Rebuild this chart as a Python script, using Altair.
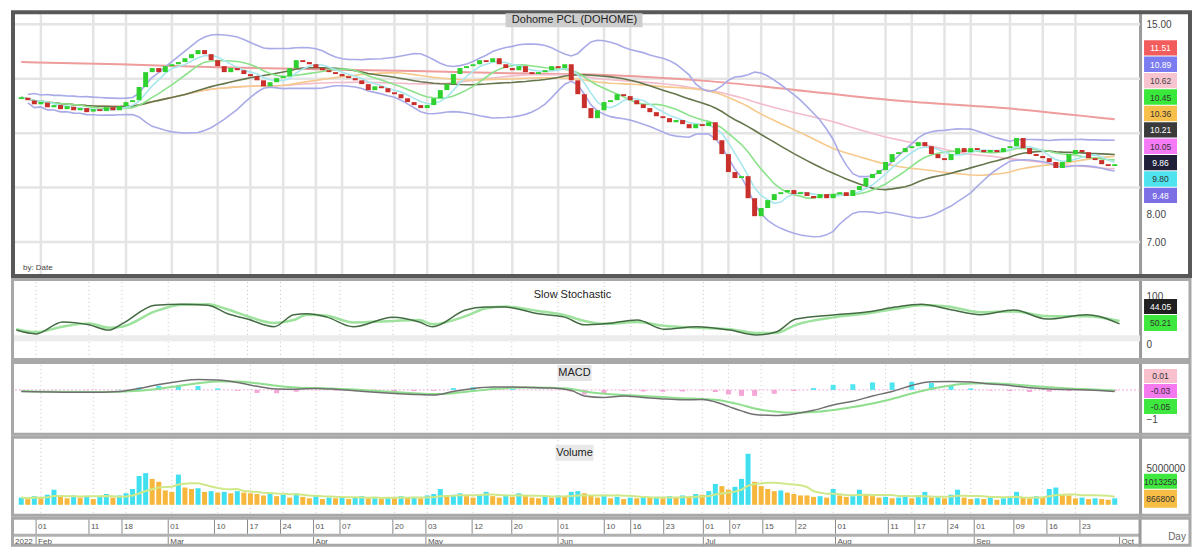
import altair as alt
import pandas as pd

FONT = "Liberation Sans"

# ---------------- data ----------------
close = [12.32, 12.21, 12.06, 12.14, 11.95, 12.03, 11.88, 11.99, 11.84, 11.92,
         11.77, 11.88, 11.81, 11.95, 11.84, 11.99, 12.14, 12.21, 12.69, 13.24,
         13.39, 13.24, 13.46, 13.53, 13.61, 13.75, 13.90, 14.05, 13.90, 13.68,
         13.46, 13.24, 13.39, 13.31, 13.17, 13.09, 12.94, 12.72, 12.87, 13.02,
         13.09, 13.39, 13.68, 13.61, 13.53, 13.39, 13.31, 13.24, 13.17, 13.09,
         13.02, 12.94, 12.80, 12.58, 12.72, 12.65, 12.50, 12.43, 12.28, 12.14,
         12.03, 11.92, 12.03, 12.28, 12.58, 12.80, 13.17, 13.39, 13.46, 13.53,
         13.68, 13.61, 13.75, 13.53, 13.39, 13.31, 13.46, 13.24, 13.17, 13.24,
         13.31, 13.46, 13.39, 13.53, 12.94, 12.43, 11.92, 11.55, 11.84, 12.14,
         12.21, 12.43, 12.36, 12.21, 12.06, 11.92, 11.77, 11.62, 11.55, 11.40,
         11.48, 11.33, 11.18, 11.33, 11.26, 11.40, 10.74, 10.23, 9.57, 9.35,
         9.42, 8.61, 7.95, 8.25, 8.54, 8.76, 8.83, 8.91, 8.76, 8.83,
         8.69, 8.61, 8.76, 8.61, 8.76, 8.83, 8.69, 8.91, 9.06, 9.35,
         9.50, 9.64, 9.94, 10.23, 10.30, 10.45, 10.52, 10.67, 10.52, 10.23,
         10.08, 10.01, 10.23, 10.45, 10.30, 10.45, 10.38, 10.30, 10.38, 10.30,
         10.45, 10.52, 10.82, 10.45, 10.23, 10.16, 10.08, 9.94, 9.72, 9.94,
         10.23, 10.38, 10.30, 10.08, 10.01, 9.86, 9.79, 9.86]

open_ = [12.25, 12.30, 12.20, 12.06, 12.12, 11.95, 12.03, 11.88, 11.97, 11.84,
         11.92, 11.79, 11.88, 11.81, 11.95, 11.84, 11.99, 12.14, 12.21, 12.69,
         13.24, 13.39, 13.24, 13.46, 13.53, 13.61, 13.75, 13.90, 14.05, 13.90,
         13.68, 13.46, 13.24, 13.39, 13.31, 13.17, 13.09, 12.94, 12.72, 12.87,
         13.02, 13.09, 13.39, 13.68, 13.61, 13.53, 13.39, 13.31, 13.24, 13.17,
         13.09, 13.02, 12.94, 12.80, 12.58, 12.72, 12.65, 12.50, 12.43, 12.28,
         12.14, 12.03, 11.92, 12.03, 12.28, 12.58, 12.80, 13.17, 13.39, 13.46,
         13.53, 13.68, 13.61, 13.75, 13.53, 13.39, 13.31, 13.46, 13.24, 13.17,
         13.24, 13.31, 13.46, 13.39, 13.53, 12.94, 12.43, 11.92, 11.55, 11.84,
         12.14, 12.21, 12.43, 12.36, 12.21, 12.06, 11.92, 11.77, 11.62, 11.55,
         11.40, 11.48, 11.33, 11.18, 11.33, 11.26, 11.40, 10.74, 10.23, 9.57,
         9.35, 9.42, 8.61, 7.95, 8.25, 8.54, 8.76, 8.83, 8.91, 8.76,
         8.83, 8.69, 8.61, 8.76, 8.61, 8.76, 8.83, 8.69, 8.91, 9.06,
         9.35, 9.50, 9.64, 9.94, 10.23, 10.30, 10.45, 10.52, 10.67, 10.52,
         10.23, 10.08, 10.01, 10.23, 10.45, 10.30, 10.45, 10.38, 10.30, 10.38,
         10.30, 10.45, 10.52, 10.82, 10.45, 10.23, 10.16, 10.08, 9.94, 9.72,
         9.94, 10.23, 10.38, 10.30, 10.08, 10.01, 9.86, 9.79]

volume_m = [1.0, 0.8, 1.2, 0.9, 1.4, 2.1, 1.1, 0.9, 1.3, 1.0,
            1.2, 0.8, 1.1, 1.5, 1.0, 1.3, 1.6, 2.2, 4.0, 4.4,
            3.6, 3.2, 2.0, 1.8, 4.2, 2.4, 2.2, 2.3, 1.8, 1.9,
            1.7, 1.8, 1.6, 1.9, 1.7, 1.6, 1.5, 1.3, 1.5, 1.2,
            1.4, 1.0, 1.6, 1.1, 0.9, 1.2, 0.8, 1.0, 0.9, 1.1,
            0.8, 1.0, 1.2, 0.9, 1.1, 0.8, 1.0, 0.9, 1.2, 1.0,
            1.1, 0.9, 1.3, 1.5, 2.2, 1.1, 1.4, 1.6, 1.2, 1.0,
            1.3, 1.8, 1.2, 1.0, 1.4, 1.1, 1.6, 1.2, 1.0, 0.9,
            1.2, 1.0, 1.3, 1.1, 1.8, 1.9, 1.6, 1.3, 1.0, 1.2,
            0.9, 1.1, 0.8, 1.0, 0.9, 1.2, 1.0, 1.1, 0.9, 1.2,
            1.0, 1.3, 1.1, 1.5, 1.4, 1.9, 2.9, 2.6, 2.1, 2.5,
            3.6, 7.1, 3.2, 2.6, 2.2, 1.9, 2.0, 1.7, 1.5, 1.3,
            1.3, 1.1, 1.2, 1.0, 2.2, 1.3, 1.1, 1.2, 2.1, 1.4,
            1.2, 1.0, 1.1, 0.9, 1.0, 1.2, 0.9, 1.3, 1.8, 1.0,
            1.1, 0.9, 1.4, 2.1, 1.0, 0.8, 0.9, 0.8, 1.0, 0.7,
            0.9, 1.1, 1.8, 1.0, 0.9, 1.2, 1.0, 2.2, 2.4, 1.5,
            1.3, 0.9, 1.0, 0.8, 0.9, 0.8, 0.7, 0.9]

sma200_idx = [0, 15, 30, 45, 60, 75, 90, 105, 120, 135, 150, 167]
sma200_val = [13.61, 13.53, 13.42, 13.35, 13.28, 13.20, 13.13, 12.91, 12.54, 12.17, 11.92, 11.51]

stoch_idx = [0, 3, 7, 11, 14, 16, 21, 25, 29, 32, 35, 39, 42, 44, 47, 51, 57, 61, 63, 68, 71, 74,
             79, 83, 86, 89, 94, 98, 103, 108, 112, 115, 118, 124, 129, 133, 137, 141, 146, 151,
             156, 162, 167]
stoch_k = [31, 23, 48, 42, 31, 44, 83, 85, 83, 65, 54, 38, 63, 65, 58, 38, 58, 48, 38, 73, 79, 79,
           65, 58, 42, 44, 52, 33, 38, 31, 21, 27, 54, 63, 69, 79, 85, 75, 63, 73, 54, 63, 44]
stoch_d = [33, 27, 38, 45, 36, 38, 70, 84, 85, 74, 60, 46, 52, 63, 61, 47, 50, 52, 43, 60, 76, 80,
           71, 62, 50, 44, 48, 40, 36, 33, 25, 25, 42, 58, 66, 75, 83, 80, 68, 70, 60, 60, 50]

macd_idx = [0, 5, 10, 15, 18, 21, 24, 27, 30, 33, 36, 39, 42, 45, 48, 51, 54, 57, 60, 63, 66, 69,
            72, 75, 78, 81, 84, 86, 89, 92, 95, 98, 101, 104, 106, 108, 110, 112, 115, 118, 121,
            124, 127, 130, 133, 136, 139, 142, 145, 148, 151, 154, 157, 160, 163, 167]
macd_line = [-0.05, -0.07, -0.08, -0.05, 0.05, 0.18, 0.28, 0.35, 0.33, 0.25, 0.12, 0.03, 0.02,
             0.05, 0.02, -0.03, -0.08, -0.12, -0.15, -0.17, -0.05, 0.05, 0.10, 0.10, 0.08, 0.06,
             -0.02, -0.20, -0.25, -0.20, -0.25, -0.30, -0.33, -0.32, -0.40, -0.55, -0.70, -0.82,
             -0.85, -0.80, -0.68, -0.50, -0.38, -0.20, -0.05, 0.15, 0.27, 0.28, 0.26, 0.20, 0.15,
             0.07, 0.03, 0.01, 0.00, -0.05]
macd_signal = [-0.04, -0.06, -0.07, -0.06, -0.03, 0.04, 0.13, 0.22, 0.28, 0.28, 0.22, 0.14, 0.08,
               0.06, 0.04, 0.01, -0.03, -0.07, -0.11, -0.14, -0.11, -0.04, 0.03, 0.07, 0.08, 0.07,
               0.03, -0.05, -0.13, -0.17, -0.20, -0.24, -0.28, -0.30, -0.33, -0.40, -0.50, -0.62,
               -0.72, -0.76, -0.74, -0.67, -0.57, -0.45, -0.30, -0.12, 0.04, 0.15, 0.21, 0.22, 0.19,
               0.14, 0.09, 0.05, 0.02, -0.02]

tick_idx = [3, 11, 16, 23, 30, 35, 40, 45, 49, 57, 62, 69, 75, 82, 89, 93, 98, 104, 108, 113,
            118, 124, 132, 136, 141, 145, 151, 156, 161]
tick_day = ["01", "11", "18", "01", "10", "17", "24", "01", "07", "20", "03", "12", "20", "01",
            "10", "16", "23", "01", "07", "15", "22", "01", "11", "17", "24", "01", "09", "16", "23"]
month_idx = [3, 23, 45, 62, 82, 104, 124, 145, 167]
month_lbl = ["Feb", "Mar", "Apr", "May", "Jun", "Jul", "Aug", "Sep", "Oct"]

price_grid = [15, 13, 11, 9, 7]
price_ticks = [15, 8, 7]

price_box_text = ["11.51", "10.89", "10.62", "10.45", "10.36", "10.21", "10.05", "9.86", "9.80", "9.48"]
stoch_box_text = ["44.05", "50.21"]
macd_box_text = ["0.01", "-0.03", "-0.05"]
vol_box_text = ["1013250", "866800"]

# ---------------- layout helpers ----------------
N = len(close)
W = 1130
XS = alt.Scale(domain=[-0.8, 170.1], nice=False, zero=False)
X = alt.X("i:Q", scale=XS, axis=None)
one = pd.DataFrame({"k": [0]})


def const_rect(x1, x2, y1, y2, color):
    return alt.Chart(one).mark_rect(color=color).encode(
        x=alt.value(x1), x2=alt.value(x2), y=alt.value(y1), y2=alt.value(y2))


def const_text(x, y, text, size=9, color="#333", align="center"):
    return alt.Chart(one).mark_text(text=text, fontSize=size, color=color, align=align,
                                    baseline="middle", font=FONT).encode(
        x=alt.value(x), y=alt.value(y))


def frame(H, color, sw):
    return alt.Chart(one).mark_rect(filled=False, color=color, strokeWidth=sw).encode(
        x=alt.value(sw / 2), x2=alt.value(W + 50), y=alt.value(sw / 2), y2=alt.value(H - sw / 2))


def value_boxes(top, heights, colors, texts, tcolors):
    layers = []
    y = top
    for h, c, t, tc in zip(heights, colors, texts, tcolors):
        layers.append(const_rect(W + 4, W + 37, y, y + h - 1, c))
        layers.append(const_text(W + 20.5, y + h / 2, t, 8.5, tc))
        y += h
    return layers


def right_axis(values, fmt):
    return alt.Axis(orient="right", values=values, format=fmt, grid=False, ticks=False, title=None,
                    labelFontSize=10, labelColor="#444", labelFont=FONT, domainColor="#9a9a9a",
                    domainWidth=3, labelPadding=6)


tdf = pd.DataFrame({"i": tick_idx, "t": tick_day})
mdf_lbl = pd.DataFrame({"i": month_idx, "t": month_lbl})
srt = [alt.SortField("i")]

# ---------------- price panel ----------------
H1 = 268
YP = alt.Scale(domain=[5.679, 15.514], nice=False, zero=False)
YPA = right_axis(price_ticks, ".2f")
pdf = pd.DataFrame({"i": list(range(N)), "open": open_, "close": close})

vgrid = alt.Chart(tdf).mark_rule(color="#e4e4e4", strokeWidth=2.5).encode(x=X)
hgrid = alt.Chart(pd.DataFrame({"v": price_grid})).mark_rule(color="#e4e4e4", strokeWidth=2.5).encode(
    y=alt.Y("v:Q", scale=YP, axis=YPA))
sma200 = alt.Chart(pd.DataFrame({"i": sma200_idx, "v": sma200_val})).mark_line(
    color="#ee9c9c", strokeWidth=2, interpolate="monotone").encode(x=X, y=alt.Y("v:Q", scale=YP, axis=YPA))

series = ["sma60", "sma40", "bbu", "bbl", "sma25", "sma10", "sma5"]
series_col = ["#f3bccb", "#f6c98c", "#a9abe8", "#a9abe8", "#66764c", "#8be28b", "#a9e7ee"]
ind = (alt.Chart(pdf)
       .transform_window(sma5="mean(close)", frame=[-4, 0], sort=srt)
       .transform_window(sma10="mean(close)", frame=[-9, 0], sort=srt)
       .transform_window(bbm="mean(close)", bbs="stdev(close)", frame=[-19, 0], sort=srt)
       .transform_window(sma25="mean(close)", frame=[-24, 0], sort=srt)
       .transform_window(sma40="mean(close)", frame=[-39, 0], sort=srt)
       .transform_window(sma60="mean(close)", frame=[-59, 0], sort=srt)
       .transform_calculate(bbu="datum.bbm + 2*datum.bbs", bbl="datum.bbm - 2*datum.bbs")
       .transform_fold(series, as_=["s", "v"])
       .mark_line(strokeWidth=1.6)
       .encode(x=X, y=alt.Y("v:Q", scale=YP, axis=YPA),
               color=alt.Color("s:N", scale=alt.Scale(domain=series, range=series_col), legend=None)))

candles = alt.Chart(pdf).mark_bar(size=5).encode(
    x=X, y=alt.Y("open:Q", scale=YP, axis=YPA), y2="close:Q",
    color=alt.condition("datum.close >= datum.open", alt.value("#2fd12f"), alt.value("#c9302c")))

price_layers = [vgrid, hgrid, sma200, ind, candles, frame(H1, "#585858", 4),
                const_rect(495, 632, 3, 17, "#cdcdcd"),
                const_text(564, 10, "Dohome PCL (DOHOME)", 11, "#222"),
                const_text(12, 258, "by: Date", 8, "#444", "left")]
price_layers += value_boxes(30, [16.4] * 10,
                            ["#f25c5c", "#7a7cf0", "#f7c4cf", "#3ae83a", "#f7c04a", "#3a3a3a",
                             "#f57af5", "#1f1f3a", "#4fe3ef", "#7c6fe6"],
                            price_box_text,
                            ["white", "white", "#444", "#333", "#333", "white", "#333", "white", "#333", "white"])
price = alt.layer(*price_layers).properties(width=W, height=H1)

# ---------------- stochastic panel ----------------
H2 = 83
YS = alt.Scale(domain=[-33.3, 139.6], nice=False, zero=False)
YSA = right_axis([0, 100], "d")
sdf = pd.DataFrame({"i": stoch_idx, "k": stoch_k, "d": stoch_d})
s_vgrid = alt.Chart(tdf).mark_rule(color="#c8c8c8", strokeDash=[1, 3]).encode(x=X)
s_band = alt.Chart(pd.DataFrame({"v": [14]})).mark_rule(color="#ececec", strokeWidth=6).encode(
    y=alt.Y("v:Q", scale=YS, axis=YSA))
s_d = alt.Chart(sdf).mark_line(color="#9de29d", strokeWidth=2.5, interpolate="monotone").encode(
    x=X, y=alt.Y("d:Q", scale=YS, axis=YSA))
s_k = alt.Chart(sdf).mark_line(color="#456b45", strokeWidth=1.5, interpolate="monotone").encode(
    x=X, y=alt.Y("k:Q", scale=YS, axis=YSA))
stoch_layers = [s_vgrid, s_band, s_d, s_k, frame(H2, "#a8a8a8", 3),
                const_text(562, 17, "Slow Stochastic", 11, "#222")]
stoch_layers += value_boxes(21, [16, 17], ["#202020", "#3ee83e"], stoch_box_text, ["white", "#333"])
stoch = alt.layer(*stoch_layers).properties(width=W, height=H2)

# ---------------- MACD panel ----------------
H3 = 75
YM = alt.Scale(domain=[-1.533, 0.967], nice=False, zero=False)
YMA = right_axis([-1, 0], "d")
mdf = pd.DataFrame({"i": macd_idx, "m": macd_line, "s": macd_signal})
m_vgrid = alt.Chart(tdf).mark_rule(color="#c8c8c8", strokeDash=[1, 3]).encode(x=X)
m_zero = alt.Chart(pd.DataFrame({"v": [0]})).mark_rule(color="#f0a8d8", strokeDash=[2, 2]).encode(
    y=alt.Y("v:Q", scale=YM, axis=YMA))
m_hist = (alt.Chart(mdf).transform_calculate(h="datum.m - datum.s", z="0")
          .mark_bar(size=5).encode(
              x=X, y=alt.Y("h:Q", scale=YM, axis=YMA), y2="z:Q",
              color=alt.condition("datum.h >= 0", alt.value("#4fe6f0"), alt.value("#f4a6d7"))))
m_sig = alt.Chart(mdf).mark_line(color="#8fdf8f", strokeWidth=2, interpolate="monotone").encode(
    x=X, y=alt.Y("s:Q", scale=YM, axis=YMA))
m_line = alt.Chart(mdf).mark_line(color="#707070", strokeWidth=1.5, interpolate="monotone").encode(
    x=X, y=alt.Y("m:Q", scale=YM, axis=YMA))
macd_layers = [m_vgrid, m_zero, m_hist, m_sig, m_line, frame(H3, "#a8a8a8", 3),
               const_rect(547, 581, 4, 20, "#e4e4e4"),
               const_text(564, 12, "MACD", 11, "#222")]
macd_layers += value_boxes(8, [15, 15, 16], ["#f8c0cc", "#f57af0", "#3ee83e"], macd_box_text,
                           ["#333", "#333", "#333"])
macd = alt.layer(*macd_layers).properties(width=W, height=H3)

# ---------------- volume panel ----------------
H4 = 81
YV = alt.Scale(domain=[-1.667e6, 9.583e6], nice=False, zero=False)
YVA = right_axis([5000000], "d")
vdf = pd.DataFrame({"i": list(range(N)), "vol": [v * 1e6 for v in volume_m]})
v_vgrid = alt.Chart(tdf).mark_rule(color="#c8c8c8", strokeDash=[1, 3]).encode(x=X)
v_bars = (alt.Chart(vdf).transform_window(prev="lag(vol)", sort=srt)
          .transform_calculate(z="0")
          .mark_bar(size=5).encode(
              x=X, y=alt.Y("vol:Q", scale=YV, axis=YVA), y2="z:Q",
              color=alt.condition("datum.vol > datum.prev", alt.value("#40e0f0"), alt.value("#f6b73c"))))
v_ma = (alt.Chart(vdf).transform_window(ma="mean(vol)", frame=[-9, 0], sort=srt)
        .mark_line(color="#cfe98a", strokeWidth=2).encode(x=X, y=alt.Y("ma:Q", scale=YV, axis=YVA)))
vol_layers = [v_vgrid, v_bars, v_ma, frame(H4, "#a8a8a8", 3),
              const_rect(545, 583, 9, 25, "#e8e8e8"),
              const_text(564, 17, "Volume", 11, "#222")]
vol_layers += value_boxes(38, [16, 19], ["#3ee83e", "#f7bd45"], vol_box_text, ["#333", "#333"])
vol = alt.layer(*vol_layers).properties(width=W, height=H4)

# ---------------- date axis panel ----------------
H5 = 30
a_sep = alt.Chart(one).mark_rule(color="#b0b0b0", strokeWidth=3).encode(
    x=alt.value(0), x2=alt.value(W), y=alt.value(18.5))
a_ticks = alt.Chart(tdf).mark_rule(color="#8a8a8a").encode(x=X, y=alt.value(2), y2=alt.value(17))
a_days = alt.Chart(tdf).mark_text(align="left", dx=2, fontSize=8, color="#555", font=FONT).encode(
    x=X, y=alt.value(10), text="t:N")
a_mticks = alt.Chart(mdf_lbl).mark_rule(color="#8a8a8a").encode(x=X, y=alt.value(20), y2=alt.value(30))
a_months = alt.Chart(mdf_lbl).mark_text(align="left", dx=2, fontSize=8, color="#555", font=FONT).encode(
    x=X, y=alt.value(25), text="t:N")
a_vline = alt.Chart(one).mark_rule(color="#9a9a9a", strokeWidth=3).encode(
    x=alt.value(W), y=alt.value(0), y2=alt.value(H5))
axis_layers = [a_sep, a_ticks, a_days, a_mticks, a_months, a_vline, frame(H5, "#a8a8a8", 3),
               const_text(4, 25, "2022", 8, "#555", "left"),
               const_text(W + 37, 20, "Day", 10, "#666")]
axisp = alt.layer(*axis_layers).properties(width=W, height=H5)

chart = (alt.vconcat(price, stoch, macd, vol, axisp, spacing=0, bounds="flush")
         .properties(padding=0, background="white")
         .configure_view(strokeWidth=0))

chart.save("out.html", embed_options={"renderer": "svg", "actions": False})
